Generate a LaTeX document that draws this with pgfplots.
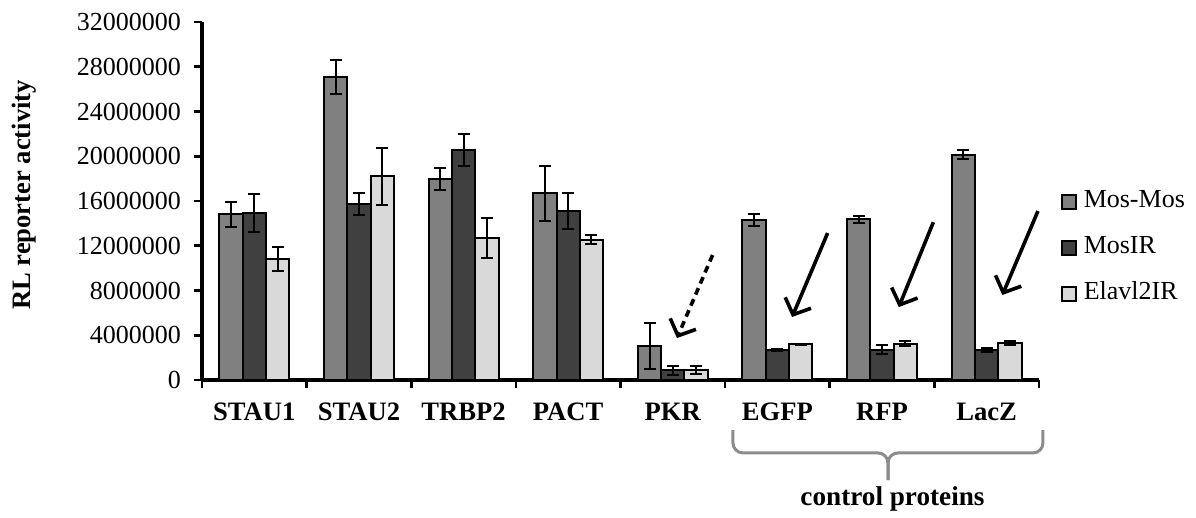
\documentclass[border=0pt]{standalone}
\usepackage{fontspec}
\setmainfont{Liberation Serif}
\usepackage{pgfplots}
\pgfplotsset{compat=1.18}
\usetikzlibrary{arrows.meta}
\definecolor{cA}{HTML}{808080}
\definecolor{cB}{HTML}{404040}
\definecolor{cC}{HTML}{D9D9D9}
\definecolor{bracecol}{HTML}{8C8C8C}
\begin{document}
\begin{tikzpicture}
\path (-101pt,-68pt) rectangle (497pt,190pt);
\begin{axis}[
 at={(0,0)}, anchor=south west,
 scale only axis, width=418.5pt, height=179pt,
 ybar=0pt, bar width=11.65pt,
 xmin=-0.5, xmax=7.5, ymin=0, ymax=32000000,
 axis x line*=bottom, axis y line*=left,
 axis line style={line width=1.6pt, black, -},
 clip=false,
 xtick={-0.5,0.5,1.5,2.5,3.5,4.5,5.5,6.5,7.5},
 x tick label as interval,
 xticklabels={STAU1,STAU2,TRBP2,PACT,PKR,EGFP,RFP,LacZ},
 xticklabel style={font=\bfseries\fontsize{13.3}{16}\selectfont, yshift=-4pt},
 ytick={0,4000000,8000000,12000000,16000000,20000000,24000000,28000000,32000000},
 scaled y ticks=false,
 yticklabel style={font=\fontsize{13}{15.6}\selectfont, xshift=-3pt,
   /pgf/number format/.cd, fixed, precision=0, 1000 sep={}, assume math mode=true},
 tick align=outside, major tick length=4pt,
 every tick/.style={black, line width=1.3pt},
 every axis y label/.style={at={(axis description cs:-0.213,0.517)}, rotate=90, anchor=center,
   font=\bfseries\fontsize{13.3}{16}\selectfont},
 ylabel={RL reporter activity},
 legend style={at={(axis description cs:1.026,0.369)}, anchor=west, draw=none, fill=none,
   inner sep=0pt, font=\fontsize{13}{15.6}\selectfont, row sep=9pt,
   nodes={inner sep=1pt, text height=9pt, text depth=3pt},
   /tikz/every odd column/.style={column sep=2.5pt}},
 legend cell align=left,
 every axis plot/.append style={draw=black, line width=1pt,
   error bars/y dir=both, error bars/y explicit,
   error bars/error bar style={line width=1pt, black},
   error bars/error mark options={black, line width=1pt, mark size=3pt, rotate=90}},
]
\addplot[fill=cA, legend image code/.code={\draw[fill=cA, draw=black, line width=0.8pt] (0pt,-3.5pt) rectangle (7pt,3.5pt);}] coordinates {
 (0,14800000) +- (0,1100000)
 (1,27100000) +- (0,1500000)
 (2,17950000) +- (0,1000000)
 (3,16700000) +- (0,2450000)
 (4,3050000) +- (0,2050000)
 (5,14300000) +- (0,500000)
 (6,14350000) +- (0,350000)
 (7,20150000) +- (0,400000)
};
\addplot[fill=cB, legend image code/.code={\draw[fill=cB, draw=black, line width=0.8pt] (0pt,-3.5pt) rectangle (7pt,3.5pt);}] coordinates {
 (0,14900000) +- (0,1700000)
 (1,15750000) +- (0,1000000)
 (2,20550000) +- (0,1450000)
 (3,15100000) +- (0,1600000)
 (4,850000) +- (0,400000)
 (5,2700000) +- (0,100000)
 (6,2720000) +- (0,400000)
 (7,2700000) +- (0,180000)
};
\addplot[fill=cC, legend image code/.code={\draw[fill=cC, draw=black, line width=0.8pt] (0pt,-3.5pt) rectangle (7pt,3.5pt);}] coordinates {
 (0,10800000) +- (0,1100000)
 (1,18200000) +- (0,2550000)
 (2,12700000) +- (0,1800000)
 (3,12550000) +- (0,400000)
 (4,900000) +- (0,330000)
 (5,3200000) +- (0,50000)
 (6,3250000) +- (0,200000)
 (7,3350000) +- (0,180000)
};
\legend{Mos-Mos,MosIR,Elavl2IR}
% arrows
\draw[line width=1.8pt, dash pattern=on 3.5pt off 2.5pt, -{Straight Barb[length=6.5pt,width=14pt]}] (axis cs:4.38,11170000) -- (axis cs:4.04,3750000);
\draw[line width=1.8pt, -{Straight Barb[length=6.5pt,width=14pt]}] (axis cs:5.48,13140000) -- (axis cs:5.14,5630000);
\draw[line width=1.8pt, -{Straight Barb[length=6.5pt,width=14pt]}] (axis cs:6.49,14100000) -- (axis cs:6.16,6520000);
\draw[line width=1.8pt, -{Straight Barb[length=6.5pt,width=14pt]}] (axis cs:7.49,15100000) -- (axis cs:7.15,7600000);
% brace
\draw[bracecol, line width=1.5pt, rounded corners=5pt] (axis cs:4.575,-4470000) -- (axis cs:4.575,-6520000) -- (axis cs:6.057,-6520000) -- (axis cs:6.057,-8940000);
\draw[bracecol, line width=1.5pt, rounded corners=5pt] (axis cs:7.538,-4470000) -- (axis cs:7.538,-6520000) -- (axis cs:6.057,-6520000) -- (axis cs:6.057,-8940000);
\node[font=\bfseries\fontsize{13.6}{16}\selectfont] at (axis cs:6.1,-10600000) {control proteins};
\end{axis}
\end{tikzpicture}
\end{document}
